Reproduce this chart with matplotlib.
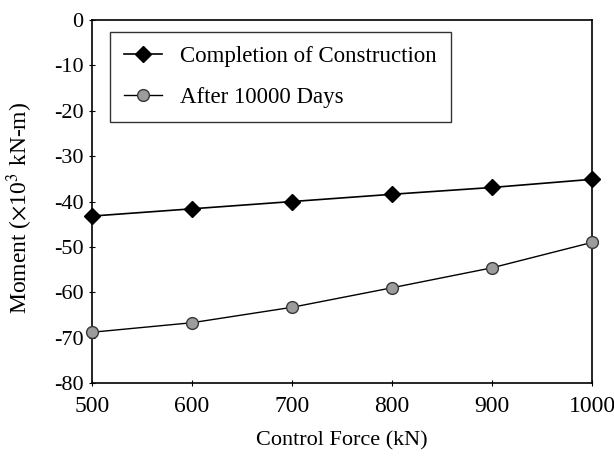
import matplotlib
matplotlib.use("Agg")
from matplotlib import pyplot as plt

plt.rcParams['font.family'] = ['Liberation Serif', 'DejaVu Serif']
plt.rcParams['axes.unicode_minus'] = False
plt.rcParams['mathtext.fontset'] = 'stix'

# Data
force = [500, 600, 700, 800, 900, 1000]
completion = [-43.2, -41.6, -40.0, -38.4, -36.9, -35.1]
after_10000 = [-68.8, -66.7, -63.3, -59.0, -54.6, -49.0]

fig = plt.figure(figsize=(6.14, 4.61), dpi=100)
ax = fig.add_axes([0.1498, 0.169, 0.8144, 0.7876])

ax.plot(force, completion, '-', color='black', lw=1.2, marker='D', ms=8,
        mfc='black', mec='black', label='Completion of Construction',
        clip_on=False, zorder=3)
ax.plot(force, after_10000, '-', color='black', lw=1.0, marker='o', ms=8.5,
        mfc='#9c9c9c', mec='#383838', mew=1.0, label='After 10000 Days',
        clip_on=False, zorder=3)

ax.set_xlim(500, 1000)
ax.set_ylim(-80, 0)
ax.set_xticks(force)
ax.set_yticks(range(-80, 1, 10))
ax.tick_params(direction='inout', length=5, width=0.8, labelsize=16,
               top=False, right=False)
ax.tick_params(axis='x', labelsize=17, pad=7)
for s in ax.spines.values():
    s.set_linewidth(1.2)

ax.set_xlabel('Control Force (kN)', fontsize=16, labelpad=10)
ax.set_ylabel(r'Moment ($\times$10$^3$ kN-m)', fontsize=17)
ax.yaxis.set_label_coords(-0.114, 0.482)

leg = ax.legend(loc='upper left', bbox_to_anchor=(0.036, 0.967),
                borderaxespad=0, fontsize=16.5,
                frameon=True, fancybox=False, edgecolor='black',
                handlelength=1.65, handletextpad=0.78,
                borderpad=0.63, labelspacing=0.85)
leg.get_frame().set_linewidth(1.0)

fig.savefig('out.png', dpi=100)
